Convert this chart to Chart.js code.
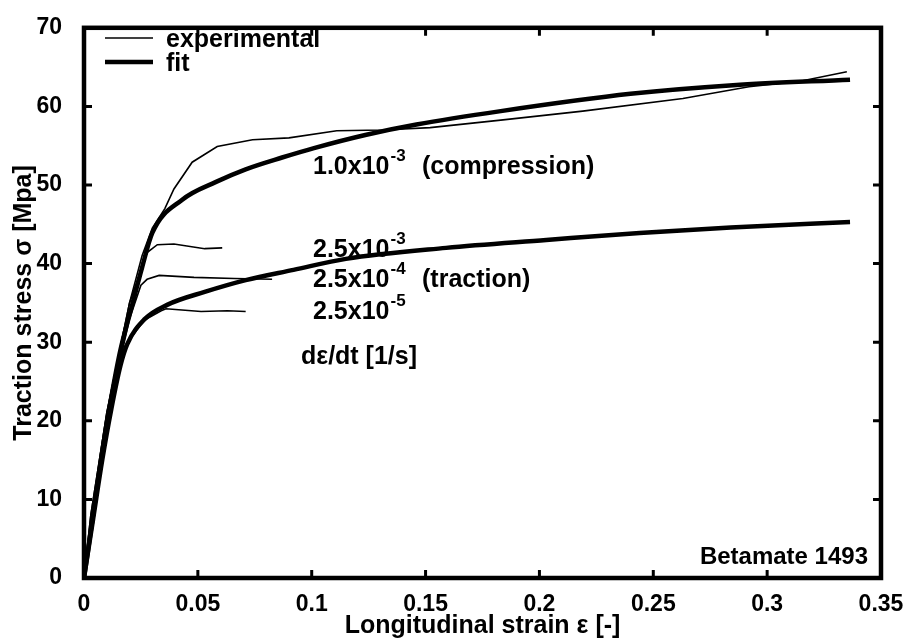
<!DOCTYPE html>
<html>
<head>
<meta charset="utf-8">
<script src="https://cdn.jsdelivr.net/npm/chart.js@4.4.1/dist/chart.umd.min.js"></script>
<style>
  html, body { margin: 0; padding: 0; background: #fff; }
  #wrap { width: 915px; height: 642px; }
</style>
</head>
<body>
<div id="wrap"><canvas id="chart" width="915" height="642"></canvas></div>
<script>
// axis ticks
const xTicks = [0, 0.05, 0.1, 0.15, 0.2, 0.25, 0.3, 0.35];
const yTicks = [0, 10, 20, 30, 40, 50, 60, 70];

// compression, 1.0e-3 1/s
const compExpStrain = [0, 0.003, 0.01, 0.02, 0.0255, 0.030, 0.0355, 0.0395, 0.0475, 0.0585, 0.074, 0.090, 0.111, 0.131, 0.152, 0.183, 0.219, 0.263, 0.292, 0.3145, 0.335];
const compExpStress = [0, 8, 21, 35, 41, 44.5, 47, 49.5, 52.9, 54.9, 55.75, 56.0, 56.9, 57.0, 57.3, 58.25, 59.4, 61.0, 62.5, 63.2, 64.4];
const compFitStrain = [0, 0.004, 0.008, 0.012, 0.016, 0.0205, 0.0255, 0.030, 0.043, 0.058, 0.071, 0.087, 0.101, 0.124, 0.146, 0.183, 0.240, 0.285, 0.3364];
const compFitStress = [0, 8, 16, 23, 29, 34, 39.5, 43.9, 48.1, 50.4, 52.0, 53.5, 54.7, 56.4, 57.7, 59.4, 61.6, 62.7, 63.4];

// traction, three strain rates
const trac3Strain = [0, 0.003, 0.01, 0.02, 0.0277, 0.0322, 0.0395, 0.053, 0.0607];
const trac3Stress = [0, 8, 21, 35, 41.4, 42.4, 42.5, 41.9, 42.0];
const trac4Strain = [0, 0.004, 0.01, 0.02, 0.025, 0.0277, 0.033, 0.0483, 0.066, 0.0826];
const trac4Stress = [0, 8, 20, 33, 37.25, 38.0, 38.5, 38.25, 38.1, 38.0];
const trac5Strain = [0, 0.004, 0.01, 0.018, 0.0264, 0.0339, 0.036, 0.0514, 0.063, 0.071];
const trac5Stress = [0, 8, 19.5, 29.5, 32.8, 34.0, 34.25, 33.9, 34.0, 33.9];
const tracFitStrain = [0, 0.004, 0.008, 0.012, 0.016, 0.019, 0.0265, 0.0365, 0.053, 0.071, 0.092, 0.115, 0.159, 0.203, 0.244, 0.284, 0.3364];
const tracFitStress = [0, 7.5, 15, 21.5, 27, 29.75, 32.9, 34.75, 36.4, 37.9, 39.2, 40.6, 42.0, 43.0, 43.9, 44.6, 45.3];

const FONT = "'Liberation Sans', Arial, Helvetica, sans-serif";

function pts(xs, ys) {
  return xs.map((x, i) => ({ x: x, y: ys[i] }));
}

function expSet(xs, ys) {
  return { data: pts(xs, ys), borderColor: "#000", borderWidth: 1.6, tension: 0, pointRadius: 0 };
}

function fitSet(xs, ys) {
  return { data: pts(xs, ys), borderColor: "#000", borderWidth: 4.5, cubicInterpolationMode: "monotone", pointRadius: 0 };
}

// frame with inward ticks on all four sides
const framePlugin = {
  id: "frame",
  afterDatasetsDraw(chart) {
    const { ctx, chartArea: a } = chart;
    const xs = chart.scales.x, ys = chart.scales.y;
    ctx.save();
    ctx.strokeStyle = "#000";
    ctx.lineWidth = 3;
    xs.ticks.forEach(t => {
      const px = xs.getPixelForValue(t.value);
      ctx.beginPath();
      ctx.moveTo(px, a.bottom); ctx.lineTo(px, a.bottom - 8);
      ctx.moveTo(px, a.top); ctx.lineTo(px, a.top + 8);
      ctx.stroke();
    });
    ys.ticks.forEach(t => {
      const py = ys.getPixelForValue(t.value);
      ctx.beginPath();
      ctx.moveTo(a.left, py); ctx.lineTo(a.left + 8, py);
      ctx.moveTo(a.right, py); ctx.lineTo(a.right - 8, py);
      ctx.stroke();
    });
    ctx.lineWidth = 4.5;
    ctx.strokeRect(a.left, a.top, a.right - a.left, a.bottom - a.top);
    ctx.restore();
  }
};

// legend and text labels
function supText(ctx, x, y, base, sup, rest) {
  ctx.font = "bold 25px " + FONT;
  ctx.fillText(base, x, y);
  let w = ctx.measureText(base).width;
  ctx.font = "bold 17px " + FONT;
  ctx.fillText(sup, x + w + 1, y - 13);
  if (rest) {
    ctx.font = "bold 25px " + FONT;
    ctx.fillText(rest, 422, y);
  }
}

const labelPlugin = {
  id: "labels",
  afterDraw(chart) {
    const ctx = chart.ctx;
    ctx.save();
    ctx.fillStyle = "#000";
    ctx.strokeStyle = "#000";
    ctx.lineCap = "butt";
    // legend
    ctx.lineWidth = 1.6;
    ctx.beginPath(); ctx.moveTo(105, 38); ctx.lineTo(153, 38); ctx.stroke();
    ctx.lineWidth = 4.5;
    ctx.beginPath(); ctx.moveTo(105, 62); ctx.lineTo(153, 62); ctx.stroke();
    ctx.textBaseline = "alphabetic";
    ctx.textAlign = "left";
    ctx.font = "bold 25px " + FONT;
    ctx.fillText("experimental", 166, 47);
    ctx.fillText("fit", 166, 71);

    supText(ctx, 313, 174, "1.0x10", "-3", "(compression)");
    supText(ctx, 313, 257, "2.5x10", "-3");
    supText(ctx, 313, 287, "2.5x10", "-4", "(traction)");
    supText(ctx, 313, 319, "2.5x10", "-5");
    ctx.font = "bold 25px " + FONT;
    ctx.fillText("d\u03b5/dt [1/s]", 301, 364);

    ctx.font = "bold 24px " + FONT;
    ctx.textAlign = "right";
    ctx.fillText("Betamate 1493", 868, 564);
    ctx.restore();
  }
};

new Chart(document.getElementById("chart").getContext("2d"), {
  type: "line",
  data: {
    datasets: [
      expSet(compExpStrain, compExpStress),
      expSet(trac3Strain, trac3Stress),
      expSet(trac4Strain, trac4Stress),
      expSet(trac5Strain, trac5Stress),
      fitSet(compFitStrain, compFitStress),
      fitSet(tracFitStrain, tracFitStress)
    ]
  },
  options: {
    responsive: false,
    devicePixelRatio: 1,
    animation: false,
    layout: { padding: { top: 18, right: 34, left: 0, bottom: 0 } },
    plugins: { legend: { display: false }, tooltip: { enabled: false } },
    scales: {
      x: {
        type: "linear",
        min: 0,
        max: 0.35,
        afterFit: s => { s.height = 64; },
        afterBuildTicks: s => { s.ticks = xTicks.map(v => ({ value: v })); },
        grid: { display: false },
        border: { display: false },
        ticks: {
          color: "#000",
          padding: 5,
          maxRotation: 0,
          font: { family: FONT, size: 23, weight: "bold" },
          callback: v => String(+v.toFixed(2))
        },
        title: {
          display: true,
          text: "Longitudinal strain \u03b5 [-]",
          color: "#000",
          padding: { top: 0, bottom: 1 },
          font: { family: FONT, size: 25, weight: "bold" }
        }
      },
      y: {
        min: 0,
        max: 70,
        afterFit: s => { s.width = 84; },
        afterBuildTicks: s => { s.ticks = yTicks.map(v => ({ value: v })); },
        grid: { display: false },
        border: { display: false },
        ticks: {
          color: "#000",
          padding: 14,
          font: { family: FONT, size: 23, weight: "bold" }
        },
        title: {
          display: true,
          text: "Traction stress \u03c3 [Mpa]",
          color: "#000",
          padding: { top: 9, bottom: 0 },
          font: { family: FONT, size: 25, weight: "bold" }
        }
      }
    }
  },
  plugins: [framePlugin, labelPlugin]
});
</script>
</body>
</html>
